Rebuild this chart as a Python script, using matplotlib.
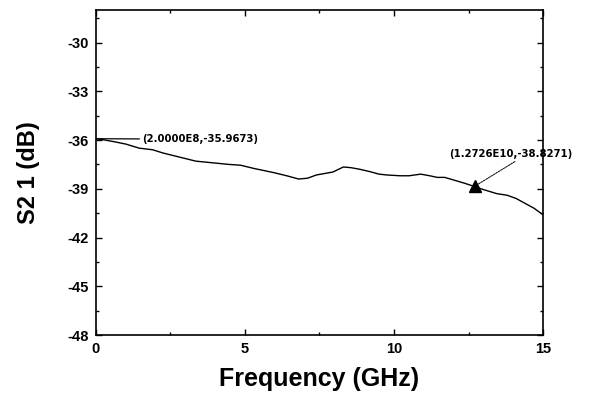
import matplotlib
matplotlib.use("Agg")
import matplotlib.pyplot as plt
from matplotlib.ticker import MultipleLocator

freq = [0.0, 0.2, 0.6, 1.0, 1.45, 1.9, 2.25, 2.8, 3.35, 3.9, 4.45, 4.85, 5.3, 5.95, 6.4, 6.8, 7.1, 7.4, 7.95, 8.3, 8.55, 8.85, 9.2, 9.5, 9.75, 10.2, 10.5, 10.9, 11.2, 11.45, 11.7, 12.0, 12.35, 12.65, 13.0, 13.45, 13.8, 14.1, 14.4, 14.7, 15.0]
s21 = [-35.92, -35.97, -36.1, -36.25, -36.5, -36.6, -36.8, -37.05, -37.3, -37.4, -37.5, -37.55, -37.75, -38.0, -38.2, -38.4, -38.35, -38.15, -37.97, -37.66, -37.7, -37.8, -37.95, -38.1, -38.15, -38.2, -38.2, -38.1, -38.2, -38.3, -38.3, -38.46, -38.65, -38.83, -39.05, -39.3, -39.4, -39.6, -39.9, -40.2, -40.6]

marker1 = (0.0, -35.92)
marker2 = (12.726, -38.8271)
label1 = "(2.0000E8,-35.9673)"
label2 = "(1.2726E10,-38.8271)"

xticks = [0, 5, 10, 15]
yticks = [-30, -33, -36, -39, -42, -45, -48]

plt.rcParams['font.family'] = ['Liberation Sans', 'DejaVu Sans']
plt.rcParams['axes.unicode_minus'] = False

fig = plt.figure(figsize=(5.91, 3.96), dpi=100)
ax = fig.add_axes([0.1624, 0.154, 0.7564, 0.8207])

ax.plot(freq, s21, color='black', lw=1.0)
ax.plot([marker2[0]], [marker2[1]], marker='^', color='black', ms=8)

ax.annotate(label1, xy=marker1, xytext=(1.55, -35.95), fontsize=7.3, fontweight='bold',
            family='DejaVu Sans', ha='left', va='center',
            arrowprops=dict(arrowstyle='-', color='black', lw=0.9, shrinkA=0, shrinkB=0))
ax.annotate(label2, xy=marker2, xytext=(11.85, -36.85), fontsize=7.3, fontweight='bold',
            family='DejaVu Sans', ha='left', va='center',
            arrowprops=dict(arrowstyle='-', color='black', lw=0.7, shrinkA=0, shrinkB=0,
                            relpos=(0.57, 0.0), linestyle=(0, (2, 1))),
            annotation_clip=False)

ax.set_xlim(0, 15)
ax.set_ylim(-48, -28)
ax.set_xticks(xticks)
ax.set_yticks(yticks)
ax.xaxis.set_minor_locator(MultipleLocator(2.5))
ax.yaxis.set_minor_locator(MultipleLocator(1.5))
ax.tick_params(which='both', direction='in', top=True, right=True, width=1.0)
ax.tick_params(which='major', length=4, labelsize=10.5, pad=5)
ax.tick_params(which='minor', length=2)
for lbl in ax.get_xticklabels() + ax.get_yticklabels():
    lbl.set_fontweight('bold')
for s in ax.spines.values():
    s.set_linewidth(1.2)

ax.set_xlabel('Frequency (GHz)', fontsize=18, fontweight='bold', labelpad=8)
ax.set_ylabel('S2 1 (dB)', fontsize=17, fontweight='bold', labelpad=20)

fig.savefig('out.png', dpi=100)
